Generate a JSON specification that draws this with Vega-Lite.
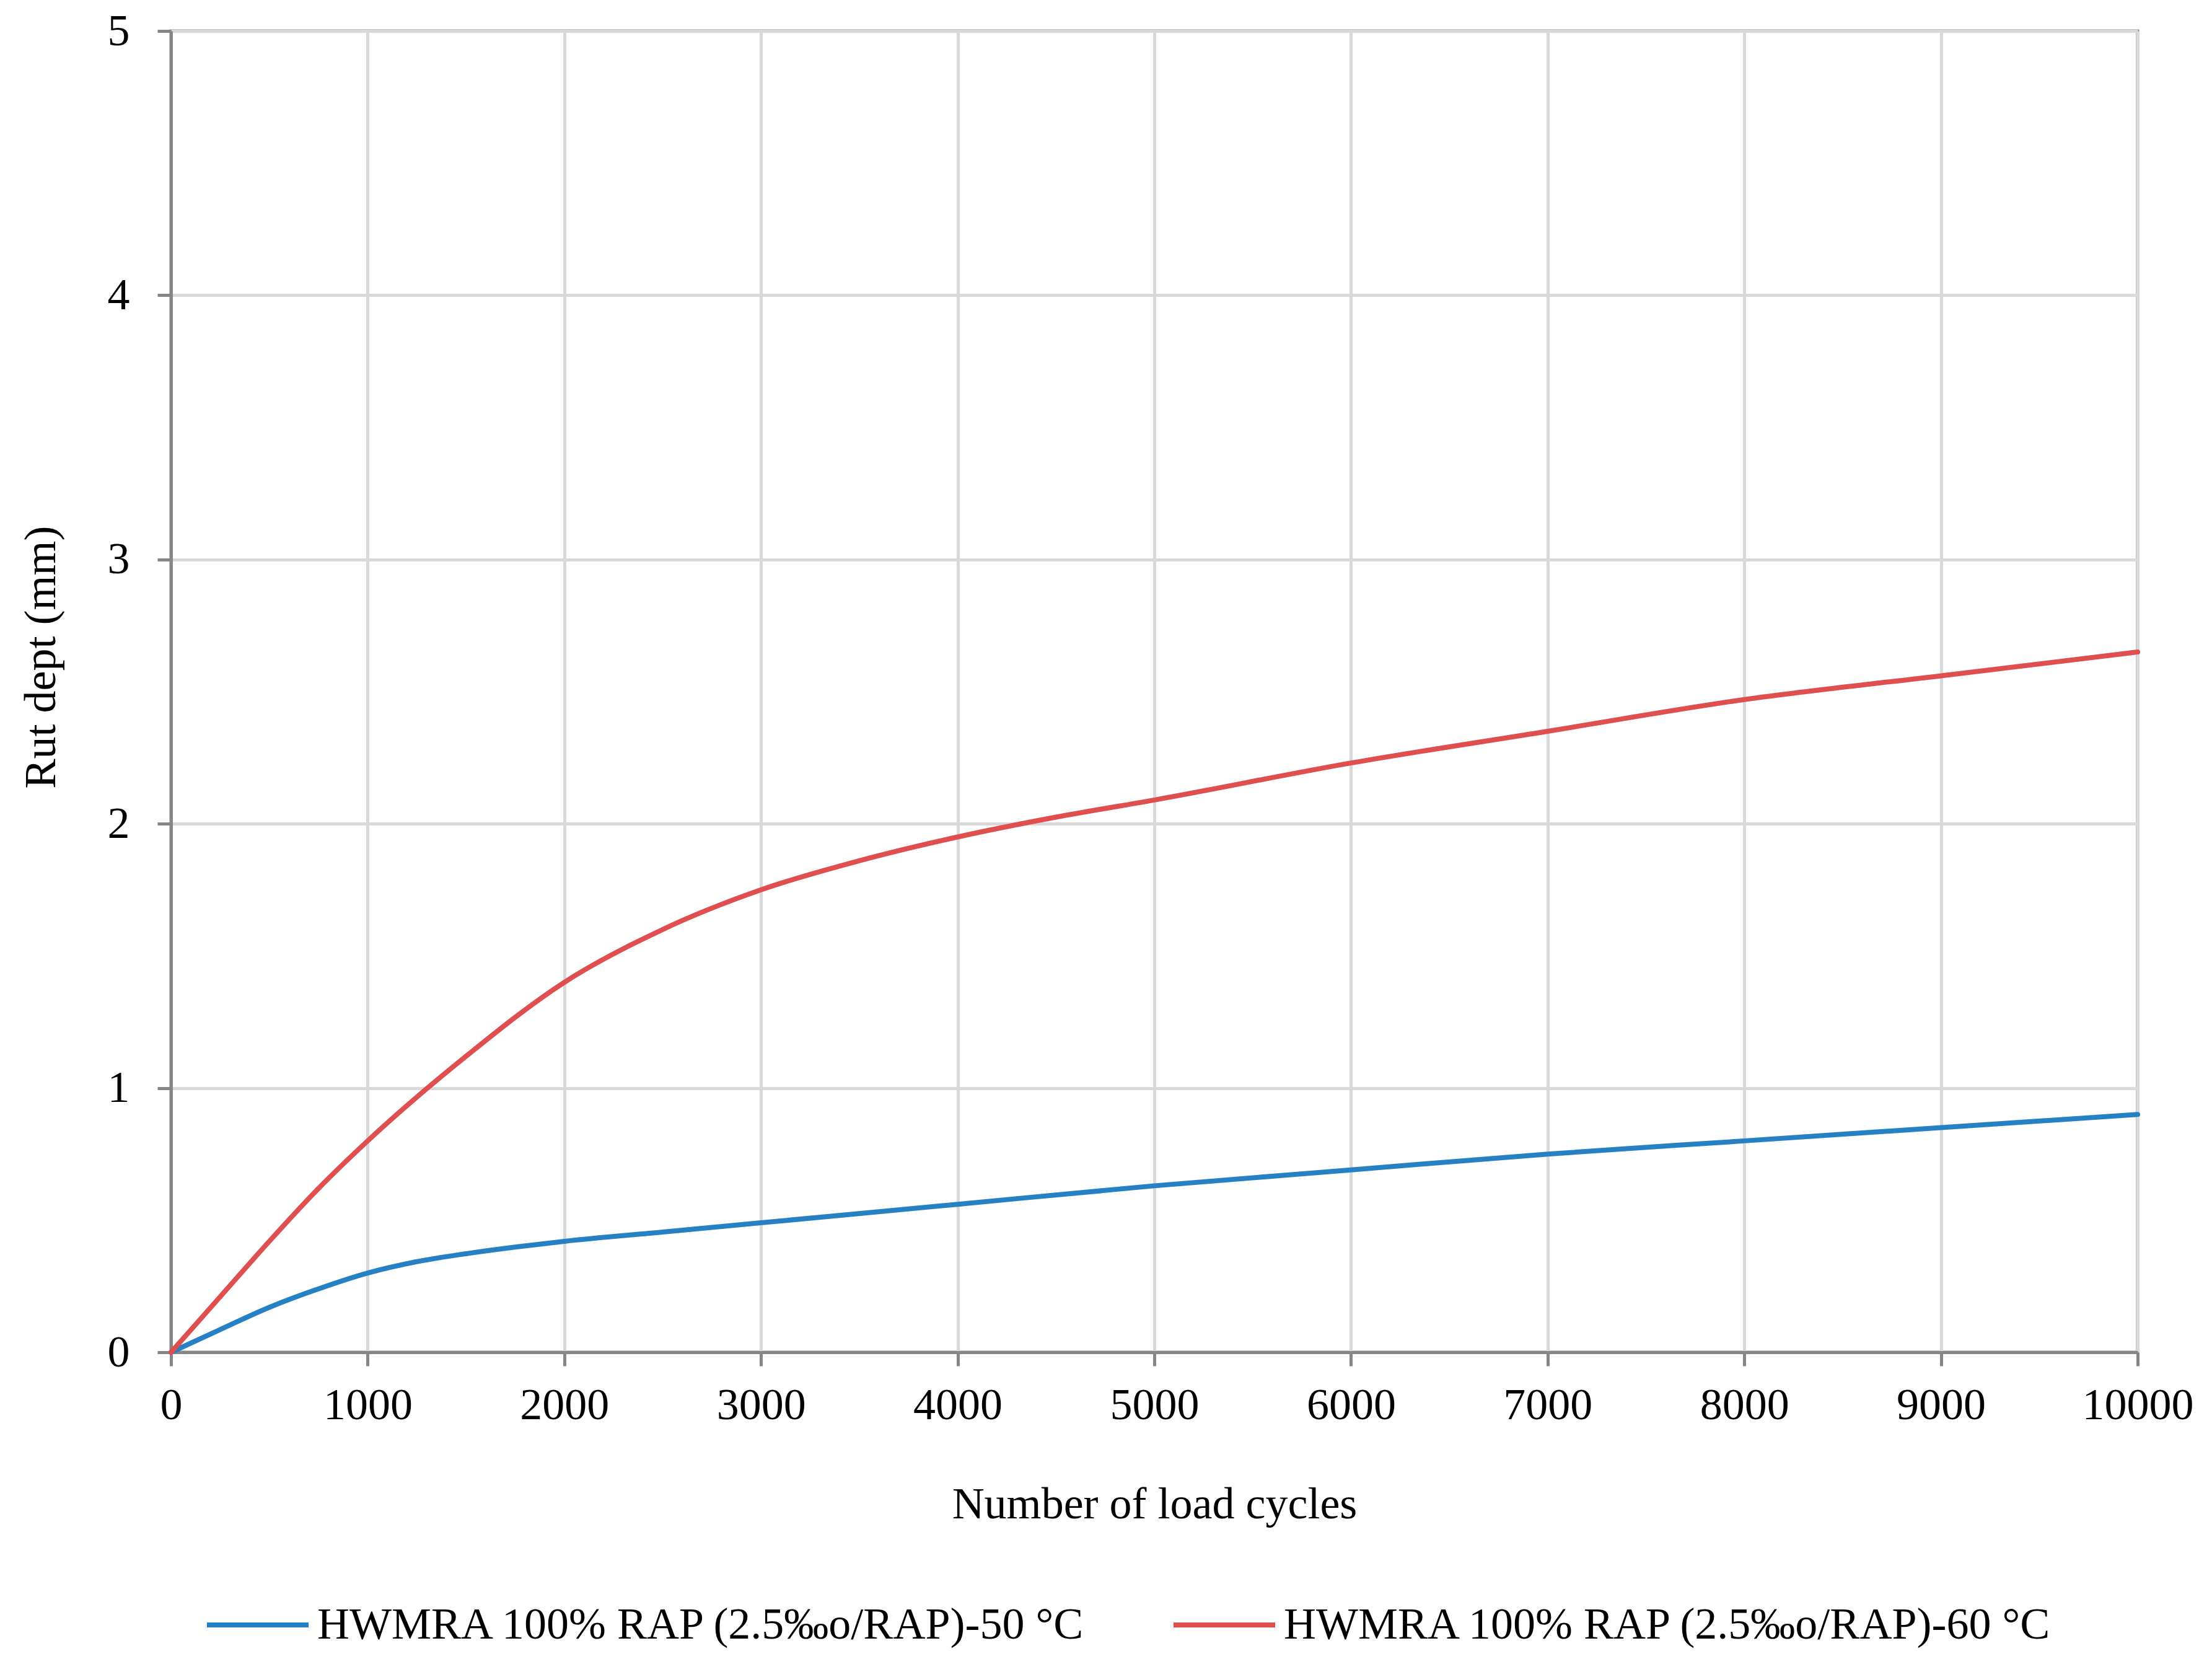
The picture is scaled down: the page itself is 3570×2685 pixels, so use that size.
{
  "$schema": "https://vega.github.io/schema/vega-lite/v6.json",
  "autosize": "none",
  "width": 3174,
  "height": 2132,
  "padding": {"left": 276, "top": 50, "right": 120, "bottom": 503},
  "background": "white",
  "config": {
    "font": "Liberation Serif",
    "view": {"stroke": "#868686", "strokeWidth": 5},
    "axis": {
      "labelFont": "Liberation Serif",
      "titleFont": "Liberation Serif",
      "labelFontSize": 72,
      "titleFontSize": 72,
      "labelColor": "black",
      "titleColor": "black",
      "titleFontWeight": "normal",
      "labelLimit": 0,
      "domainColor": "#868686",
      "domainWidth": 5,
      "tickColor": "#868686",
      "tickWidth": 5,
      "tickSize": 22,
      "gridColor": "#d9d9d9",
      "gridWidth": 5
    },
    "legend": {
      "labelFont": "Liberation Serif",
      "labelFontSize": 72,
      "labelColor": "black",
      "labelLimit": 0
    }
  },
  "data": {
    "values": [
      {"cycles": 0, "rut": 0, "series": "HWMRA 100% RAP (2.5‰o/RAP)-50 °C"},
      {"cycles": 250, "rut": 0.086, "series": "HWMRA 100% RAP (2.5‰o/RAP)-50 °C"},
      {"cycles": 500, "rut": 0.17, "series": "HWMRA 100% RAP (2.5‰o/RAP)-50 °C"},
      {"cycles": 750, "rut": 0.24, "series": "HWMRA 100% RAP (2.5‰o/RAP)-50 °C"},
      {"cycles": 1000, "rut": 0.30, "series": "HWMRA 100% RAP (2.5‰o/RAP)-50 °C"},
      {"cycles": 1250, "rut": 0.343, "series": "HWMRA 100% RAP (2.5‰o/RAP)-50 °C"},
      {"cycles": 1500, "rut": 0.373, "series": "HWMRA 100% RAP (2.5‰o/RAP)-50 °C"},
      {"cycles": 1750, "rut": 0.398, "series": "HWMRA 100% RAP (2.5‰o/RAP)-50 °C"},
      {"cycles": 2000, "rut": 0.42, "series": "HWMRA 100% RAP (2.5‰o/RAP)-50 °C"},
      {"cycles": 2500, "rut": 0.455, "series": "HWMRA 100% RAP (2.5‰o/RAP)-50 °C"},
      {"cycles": 3000, "rut": 0.49, "series": "HWMRA 100% RAP (2.5‰o/RAP)-50 °C"},
      {"cycles": 4000, "rut": 0.56, "series": "HWMRA 100% RAP (2.5‰o/RAP)-50 °C"},
      {"cycles": 5000, "rut": 0.63, "series": "HWMRA 100% RAP (2.5‰o/RAP)-50 °C"},
      {"cycles": 6000, "rut": 0.69, "series": "HWMRA 100% RAP (2.5‰o/RAP)-50 °C"},
      {"cycles": 7000, "rut": 0.75, "series": "HWMRA 100% RAP (2.5‰o/RAP)-50 °C"},
      {"cycles": 8000, "rut": 0.80, "series": "HWMRA 100% RAP (2.5‰o/RAP)-50 °C"},
      {"cycles": 9000, "rut": 0.85, "series": "HWMRA 100% RAP (2.5‰o/RAP)-50 °C"},
      {"cycles": 10000, "rut": 0.90, "series": "HWMRA 100% RAP (2.5‰o/RAP)-50 °C"},
      {"cycles": 0, "rut": 0, "series": "HWMRA 100% RAP (2.5‰o/RAP)-60 °C"},
      {"cycles": 250, "rut": 0.21, "series": "HWMRA 100% RAP (2.5‰o/RAP)-60 °C"},
      {"cycles": 500, "rut": 0.42, "series": "HWMRA 100% RAP (2.5‰o/RAP)-60 °C"},
      {"cycles": 750, "rut": 0.62, "series": "HWMRA 100% RAP (2.5‰o/RAP)-60 °C"},
      {"cycles": 1000, "rut": 0.80, "series": "HWMRA 100% RAP (2.5‰o/RAP)-60 °C"},
      {"cycles": 1500, "rut": 1.12, "series": "HWMRA 100% RAP (2.5‰o/RAP)-60 °C"},
      {"cycles": 2000, "rut": 1.40, "series": "HWMRA 100% RAP (2.5‰o/RAP)-60 °C"},
      {"cycles": 2500, "rut": 1.60, "series": "HWMRA 100% RAP (2.5‰o/RAP)-60 °C"},
      {"cycles": 3000, "rut": 1.75, "series": "HWMRA 100% RAP (2.5‰o/RAP)-60 °C"},
      {"cycles": 3500, "rut": 1.86, "series": "HWMRA 100% RAP (2.5‰o/RAP)-60 °C"},
      {"cycles": 4000, "rut": 1.95, "series": "HWMRA 100% RAP (2.5‰o/RAP)-60 °C"},
      {"cycles": 4500, "rut": 2.025, "series": "HWMRA 100% RAP (2.5‰o/RAP)-60 °C"},
      {"cycles": 5000, "rut": 2.09, "series": "HWMRA 100% RAP (2.5‰o/RAP)-60 °C"},
      {"cycles": 6000, "rut": 2.23, "series": "HWMRA 100% RAP (2.5‰o/RAP)-60 °C"},
      {"cycles": 7000, "rut": 2.35, "series": "HWMRA 100% RAP (2.5‰o/RAP)-60 °C"},
      {"cycles": 8000, "rut": 2.47, "series": "HWMRA 100% RAP (2.5‰o/RAP)-60 °C"},
      {"cycles": 9000, "rut": 2.56, "series": "HWMRA 100% RAP (2.5‰o/RAP)-60 °C"},
      {"cycles": 10000, "rut": 2.65, "series": "HWMRA 100% RAP (2.5‰o/RAP)-60 °C"}
    ]
  },
  "mark": {"type": "line", "interpolate": "monotone", "strokeWidth": 8, "strokeCap": "round"},
  "encoding": {
    "x": {
      "field": "cycles",
      "type": "quantitative",
      "scale": {"domain": [0, 10000], "nice": false},
      "axis": {
        "title": "Number of load cycles",
        "values": [0, 1000, 2000, 3000, 4000, 5000, 6000, 7000, 8000, 9000, 10000],
        "format": "d",
        "labelPadding": 28,
        "titlePadding": 89,
        "labelFlush": false,
        "labelOverlap": false
      }
    },
    "y": {
      "field": "rut",
      "type": "quantitative",
      "scale": {"domain": [0, 5], "nice": false},
      "axis": {
        "title": "Rut dept (mm)",
        "values": [0, 1, 2, 3, 4, 5],
        "labelPadding": 45,
        "titleX": -210,
        "titleY": 1010,
        "titleAngle": -90,
        "titleAlign": "center",
        "titleBaseline": "middle"
      }
    },
    "color": {
      "field": "series",
      "type": "nominal",
      "scale": {
        "domain": ["HWMRA 100% RAP (2.5‰o/RAP)-50 °C", "HWMRA 100% RAP (2.5‰o/RAP)-60 °C"],
        "range": ["#2581c4", "#df4f4f"]
      },
      "legend": {
        "title": null,
        "orient": "none",
        "legendX": 54,
        "legendY": 2486,
        "direction": "horizontal",
        "columns": 2,
        "columnPadding": 123,
        "padding": 0,
        "symbolType": "stroke",
        "symbolSize": 26896,
        "symbolStrokeWidth": 8,
        "labelOffset": 10
      }
    }
  }
}
